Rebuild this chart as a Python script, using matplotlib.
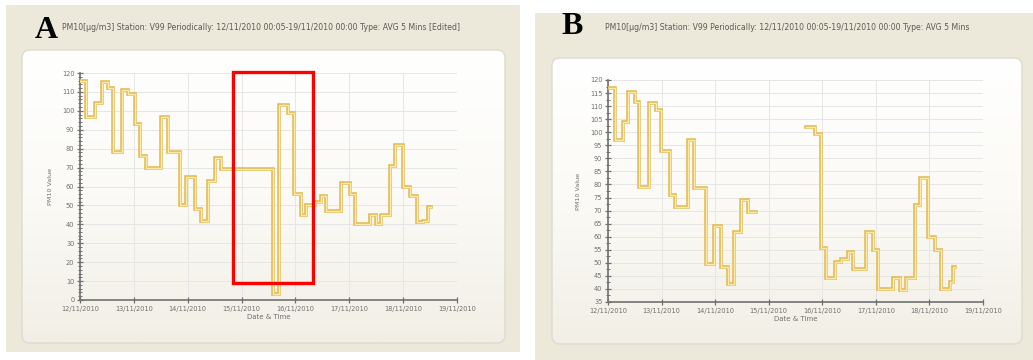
import numpy as np
import matplotlib
matplotlib.use("Agg")
import matplotlib.pyplot as plt
from matplotlib.patches import Rectangle, FancyBboxPatch
from matplotlib.colors import LinearSegmentedColormap
from matplotlib.ticker import MultipleLocator

# ---------------- data ----------------
day_labels = ["12/11/2010", "13/11/2010", "14/11/2010", "15/11/2010",
              "16/11/2010", "17/11/2010", "18/11/2010", "19/11/2010"]

# Panel A (raw, with filled gap + faulty dip) : step start hours and values
hours_a = [0, 2.5, 6.7, 9.6, 12.6, 14.8, 18.5, 21.5, 24.4, 26.6, 29.6, 36.3,
           39.2, 44.4, 47.4, 51.1, 54, 57, 60, 63, 86, 88.8, 92.5, 95.5, 98.4,
           100.6, 104.5, 107.5, 109.7, 116.4, 120.2, 122.4, 129.1, 132.1,
           134.3, 138.1, 140.3, 144, 147, 150, 153, 155.2]
values_a = [116, 97, 104, 115, 112, 78, 111, 109, 93, 76, 70, 97,
            78, 50, 65, 48, 42, 63, 75, 69, 3, 103, 99, 56, 45,
            50, 52, 55, 47, 62, 56, 40, 45, 40,
            45, 71, 82, 60, 55, 41, 42, 49]
end_a = 156.4

# Panel B (edited, faulty period removed)
hours_b = [0.5, 3, 6.7, 9, 12, 14, 18.3, 21.6, 23.8, 27.6, 29.8, 35.8, 38.7,
           44, 47.7, 50.7, 53.6, 56.6, 59.6, 62.6, 66.3,
           88.8, 92.6, 95.6, 97.8, 101.5, 104.5, 107.5, 109.7, 115.7, 118.7,
           121, 127.7, 130.6, 133.6, 137.4, 139.6, 143.3, 146.3, 149.3, 153,
           154.5]
values_b = [117, 97, 104, 115.5, 111.7, 79, 111.3, 108.5, 93, 76, 71.4, 97, 78.5,
            49.4, 64, 48.4, 41.8, 61.8, 74.2, 69.5, np.nan,
            102, 99.5, 55.5, 44, 50.3, 51.6, 54, 47.8, 61.8, 54.8,
            40.1, 44, 39.5, 44, 72, 82.3, 59.9, 54.8, 40.1, 42.6,
            48.4]
end_b = 155.3

title_a = "PM10[\u00b5g/m3] Station: V99 Periodically: 12/11/2010 00:05-19/11/2010 00:00 Type: AVG 5 Mins [Edited]"
title_b = "PM10[\u00b5g/m3] Station: V99 Periodically: 12/11/2010 00:05-19/11/2010 00:00 Type: AVG 5 Mins"

# ---------------- figure ----------------
W, H = 1033, 360
fig = plt.figure(figsize=(W / 100, H / 100), dpi=100)
fig.patch.set_facecolor("white")

bg = fig.add_axes([0, 0, 1, 1], zorder=0)
bg.axis("off")

BEIGE = "#ECE9DA"
grad_cmap = LinearSegmentedColormap.from_list("g", ["#FFFFFF", "#FBFAF6", "#F1EFE5"])
grad = np.linspace(0, 1, 256).reshape(-1, 1)

def panel(fx0, fy0, fx1, fy1, ix0, iy0, ix1, iy1):
    bg.add_patch(Rectangle((fx0, fy0), fx1 - fx0, fy1 - fy0, facecolor=BEIGE,
                           edgecolor="none", zorder=0))
    inner = FancyBboxPatch((ix0, iy0), ix1 - ix0, iy1 - iy0,
                           boxstyle="round,pad=0,rounding_size=8",
                           facecolor="none", edgecolor="#DEDBCD", lw=1.0, zorder=2)
    bg.add_patch(inner)
    im = bg.imshow(grad, extent=(ix0, ix1, iy1, iy0), cmap=grad_cmap,
                   aspect="auto", zorder=1, interpolation="bilinear")
    im.set_clip_path(inner)

panel(6, 5, 520, 352, 22, 50, 505, 343)
panel(535, 13, 1033, 360, 552, 58, 1022, 344)
bg.set_xlim(0, W)
bg.set_ylim(H, 0)

bg.text(46, 31, "A", fontsize=23, fontweight="bold", family="Liberation Serif",
        ha="center", va="center", zorder=3)
bg.text(572, 27, "B", fontsize=23, fontweight="bold", family="Liberation Serif",
        ha="center", va="center", zorder=3)
bg.text(62, 28, title_a, fontsize=5.6, color="#5A5A5A", ha="left", va="center", zorder=3)
bg.text(605, 27, title_b, fontsize=5.6, color="#5A5A5A", ha="left", va="center", zorder=3)


def add_axes_px(x0, y0, x1, y1):
    return fig.add_axes([x0 / W, 1 - y1 / H, (x1 - x0) / W, (y1 - y0) / H], zorder=2)


def style(ax, ymin, ymax, ystep, yminor):
    ax.set_facecolor("none")
    ax.set_xlim(0, 168)
    ax.set_ylim(ymin, ymax)
    ax.set_xticks(np.arange(0, 169, 24))
    ax.set_xticklabels(day_labels)
    ax.set_yticks(np.arange(ymin, ymax + 0.1, ystep))
    ax.yaxis.set_minor_locator(MultipleLocator(yminor))
    for s in ["top", "right"]:
        ax.spines[s].set_visible(False)
    for s in ["left", "bottom"]:
        ax.spines[s].set_color("#707070")
        ax.spines[s].set_linewidth(1.2)
    ax.tick_params(which="major", direction="inout", length=4, width=0.9,
                   color="#707070", labelsize=4.8, labelcolor="#707070", pad=2)
    ax.tick_params(which="minor", direction="inout", length=2.5, width=0.7,
                   color="#707070")
    ax.grid(True, which="major", color="#E6E6E6", lw=0.7)
    ax.set_axisbelow(True)
    ax.set_xlabel("Date & Time", fontsize=5, color="#707070", labelpad=2)
    ax.set_ylabel("PM10 Value", fontsize=4.6, color="#707070", labelpad=6)


def draw_step(ax, hrs, vals, end):
    x = list(hrs) + [end]
    y = list(vals) + [vals[-1]]
    ax.step(x, y, where="post", color="#E3BC58", lw=2.6, solid_joinstyle="miter",
            zorder=3)
    ax.step(x, y, where="post", color="#FCEAA8", lw=1.0, solid_joinstyle="miter",
            zorder=4)


axA = add_axes_px(80, 73, 457, 300)
style(axA, 0, 120, 10, 2)
draw_step(axA, hours_a, values_a, end_a)
axA.add_patch(Rectangle((68, 9), 104 - 68, 120.6 - 9, fill=False,
                        edgecolor="#FF0000", lw=2.4, clip_on=False, zorder=6))

axB = add_axes_px(608, 80, 983, 302)
style(axB, 35, 120, 5, 2.5)
draw_step(axB, hours_b, values_b, end_b)

fig.savefig("out.png", dpi=100, facecolor="white")
